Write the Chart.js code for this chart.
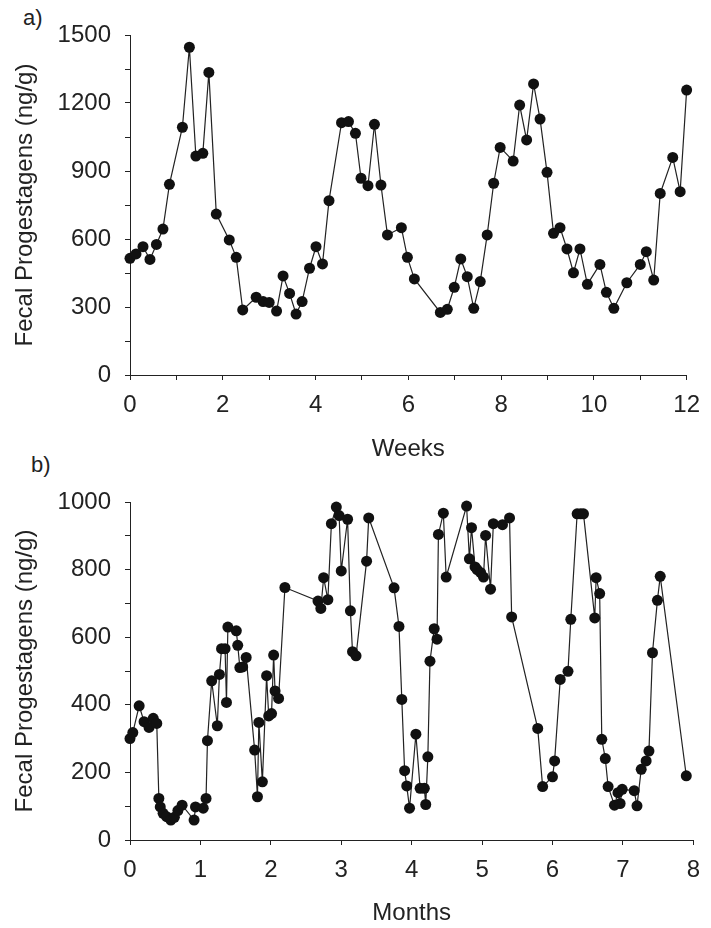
<!DOCTYPE html>
<html>
<head>
<meta charset="utf-8">
<script src="https://cdn.jsdelivr.net/npm/chart.js@4.4.0/dist/chart.umd.min.js"></script>
<style>
  body { margin: 0; background: #fff; width: 711px; height: 928px; position: relative; overflow: hidden; }
  canvas { position: absolute; left: 0; }
  .tag { position: absolute; font: 22px "Liberation Sans", Arial, sans-serif; color: #222; line-height: 1; }
</style>
</head>
<body>
<div class="tag" style="left:23px;top:7px;">a)</div>
<div class="tag" style="left:31px;top:454px;">b)</div>
<canvas id="chartWeeks" width="711" height="464" style="top:0"></canvas>
<canvas id="chartMonths" width="711" height="464" style="top:464px"></canvas>
<script>
// panel a) - weekly samples
var weeks = [0, 0.13, 0.28, 0.43, 0.57, 0.71, 0.85, 1.13, 1.28, 1.42, 1.57, 1.7, 1.86, 2.14, 2.29, 2.43,
    2.72, 2.87, 3.0, 3.16, 3.3, 3.44, 3.58, 3.71, 3.87, 4.01, 4.15, 4.29, 4.56, 4.71, 4.86,
    4.98, 5.13, 5.27, 5.41, 5.55, 5.85, 5.98, 6.13, 6.69, 6.84, 6.99, 7.13, 7.27, 7.41, 7.55,
    7.7, 7.84, 7.98, 8.26, 8.4, 8.55, 8.7, 8.84, 8.99, 9.13, 9.27, 9.42, 9.56, 9.7, 9.86,
    10.13, 10.27, 10.43, 10.71, 11.0, 11.13, 11.29, 11.43, 11.7, 11.86, 12.0];
var weeklyProg = [515, 534, 566, 510, 576, 644, 841, 1093, 1446, 966, 978, 1335, 710, 596, 519, 287,
    343, 324, 320, 282, 437, 360, 269, 324, 471, 566, 490, 769, 1113, 1118, 1066,
    868, 835, 1106, 838, 618, 650, 519, 424, 276, 290, 387, 512, 434, 294, 412,
    618, 846, 1004, 944, 1191, 1037, 1284, 1129, 894, 625, 650, 556, 451, 556, 400,
    488, 365, 294, 407, 488, 544, 419, 801, 960, 809, 1257];
var weekTicks = [0, 2, 4, 6, 8, 10, 12];
var weekProgTicks = [0, 300, 600, 900, 1200, 1500];

// panel b) - monthly samples
var months = [0, 0.04, 0.13, 0.2, 0.27, 0.33, 0.38, 0.41, 0.43, 0.47, 0.52, 0.58, 0.63, 0.68, 0.74,
    0.91, 0.93, 1.04, 1.08, 1.1, 1.16, 1.24, 1.27, 1.3, 1.35, 1.37, 1.39, 1.51, 1.53, 1.56,
    1.6, 1.65, 1.77, 1.81, 1.83, 1.88, 1.94, 1.97, 2.01, 2.04, 2.06, 2.11, 2.2, 2.67, 2.71,
    2.75, 2.81, 2.86, 2.93, 2.97, 3.0, 3.09, 3.13, 3.16, 3.21, 3.36, 3.39, 3.75, 3.82, 3.86,
    3.9, 3.93, 3.97, 4.06, 4.12, 4.18, 4.2, 4.23, 4.26, 4.32, 4.36, 4.38, 4.45, 4.49, 4.78,
    4.82, 4.85, 4.9, 4.93, 4.98, 5.02, 5.05, 5.12, 5.16, 5.29, 5.39, 5.42, 5.79, 5.86, 6.0,
    6.03, 6.11, 6.22, 6.26, 6.35, 6.4, 6.44, 6.6, 6.62, 6.67, 6.7, 6.75, 6.79, 6.88, 6.93,
    6.96, 6.99, 7.16, 7.2, 7.26, 7.33, 7.37, 7.42, 7.49, 7.53, 7.9];
var monthlyProg = [300, 318, 397, 350, 333, 360, 345, 123, 98, 79, 69, 59, 67, 87, 103,
    59, 98, 94, 123, 294, 471, 338, 490, 566, 566, 407, 630, 619, 576, 510,
    512, 540, 266, 128, 348, 172, 486, 367, 374, 547, 441, 419, 747, 707, 685,
    776, 711, 936, 985, 960, 796, 949, 678, 557, 545, 825, 953, 746, 632, 416,
    205, 160, 94, 313, 153, 153, 105, 246, 529, 625, 594, 904, 967, 778, 988,
    832, 924, 808, 800, 791, 778, 901, 742, 936, 933, 953, 660, 330, 158, 187,
    234, 475, 499, 653, 965, 965, 965, 657, 776, 729, 298, 241, 158, 103, 140,
    108, 150, 146, 101, 209, 234, 263, 554, 709, 780, 190];
var monthTicks = [0, 1, 2, 3, 4, 5, 6, 7, 8];
var monthProgTicks = [0, 200, 400, 600, 800, 1000];

var ink = '#222';
var font = { family: '"Liberation Sans", Arial, sans-serif', size: 24 };

function toPoints(xs, ys) {
    return xs.map(function (x, i) { return { x: x, y: ys[i] }; });
}

function makeChart(id, xs, ys, opt) {
    var ctx = document.getElementById(id).getContext('2d');
    return new Chart(ctx, {
        type: 'scatter',
        data: {
            datasets: [{
                data: toPoints(xs, ys),
                showLine: true,
                borderColor: ink,
                borderWidth: 1.2,
                pointRadius: 5.5,
                pointBackgroundColor: '#111',
                pointBorderWidth: 0,
                clip: false
            }]
        },
        options: {
            responsive: false,
            animation: false,
            devicePixelRatio: 1,
            layout: { padding: { left: 0, top: opt.top, right: opt.right, bottom: 0 } },
            plugins: { legend: { display: false }, tooltip: { enabled: false } },
            scales: {
                x: {
                    type: 'linear',
                    min: 0, max: opt.xMax,
                    grid: { drawOnChartArea: false, tickLength: 5, color: ink },
                    border: { color: ink, width: 1 },
                    ticks: {
                        stepSize: opt.xStep, color: ink, font: font, padding: 11, maxRotation: 0,
                        callback: function (v) { return opt.xLabels.indexOf(v) >= 0 ? v : ''; }
                    },
                    title: { display: true, text: opt.xTitle, color: ink, font: font, padding: { top: 0, bottom: 0 } },
                    afterFit: function (s) { s.height = 464 - opt.bottom; }
                },
                y: {
                    type: 'linear',
                    min: 0, max: opt.yMax,
                    grid: { drawOnChartArea: false, tickLength: 5, color: ink },
                    border: { color: ink, width: 1 },
                    ticks: {
                        stepSize: opt.yStep, color: ink, font: font, padding: 14,
                        callback: function (v) { return opt.yLabels.indexOf(v) >= 0 ? v : ''; }
                    },
                    title: { display: true, text: 'Fecal Progestagens (ng/g)', color: ink, font: font, padding: { top: 11, bottom: 0 } },
                    afterFit: function (s) { s.width = 130; }
                }
            }
        }
    });
}

makeChart('chartWeeks', weeks, weeklyProg, {
    top: 35, right: 17, bottom: 375, xMax: 12, xStep: 1, yMax: 1500, yStep: 150,
    xLabels: weekTicks, yLabels: weekProgTicks, xTitle: 'Weeks'
});

makeChart('chartMonths', months, monthlyProg, {
    top: 38, right: 16, bottom: 376, xMax: 8, xStep: 1, yMax: 1000, yStep: 100,
    xLabels: monthTicks, yLabels: monthProgTicks, xTitle: 'Months'
});
</script>
</body>
</html>
